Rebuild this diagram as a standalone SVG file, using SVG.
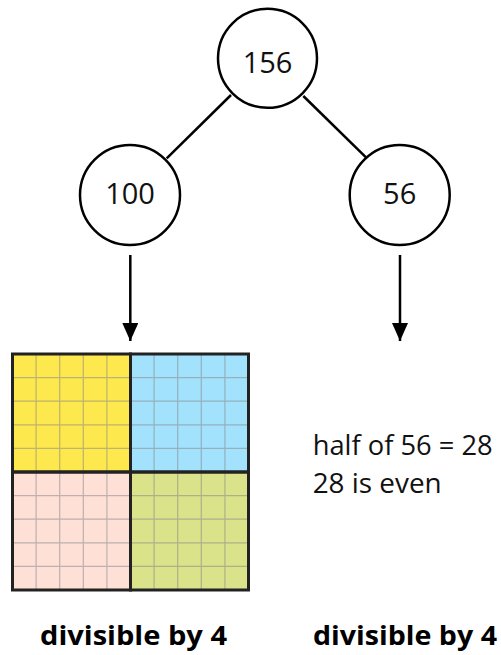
<svg xmlns="http://www.w3.org/2000/svg" width="501" height="655" viewBox="0 0 501 655">
<defs>
<style>
.node{fill:#fff;stroke:#000;stroke-width:2.5}
.num{font-family:"Open Sans","Liberation Sans",sans-serif;font-size:29px;fill:#111;text-anchor:middle}
.edge{stroke:#000;stroke-width:2.5;fill:none}
.cap{font-family:"Open Sans","Liberation Sans",sans-serif;font-size:27px;font-weight:bold;fill:#000}
.txt{font-family:"Open Sans","Liberation Sans",sans-serif;font-size:28px;fill:#111}
.grid{stroke:#888;stroke-opacity:0.55;stroke-width:1.2;fill:none}
.quad{stroke:#222;stroke-width:3;fill:none}
</style>
<marker id="arr" viewBox="0 0 18 16" refX="18" refY="8" markerWidth="18" markerHeight="16" markerUnits="userSpaceOnUse" orient="auto">
<path d="M0,0 L18,8 L0,16 Z" fill="#000"/>
</marker>
</defs>
<g id="connectors">
<line class="edge" x1="231" y1="95" x2="166.7" y2="158.3"/>
<line class="edge" x1="303.3" y1="96" x2="366" y2="157.3"/>
<line class="edge" x1="130.3" y1="255" x2="130.3" y2="341" marker-end="url(#arr)"/>
<line class="edge" x1="400" y1="255" x2="400" y2="341" marker-end="url(#arr)"/>
</g>
<g id="node-156">
<circle class="node" cx="267.5" cy="58.3" r="49.5"/>
<text class="num" x="267.5" y="72.7">156</text>
</g>
<g id="node-100">
<circle class="node" cx="130" cy="195" r="50"/>
<text class="num" x="130" y="204.3">100</text>
</g>
<g id="node-56">
<circle class="node" cx="399.7" cy="195" r="50"/>
<text class="num" x="399.7" y="204.3">56</text>
</g>
<g id="grid-100">
<rect x="12.5" y="354" width="118" height="118" fill="#FDE84E"/>
<rect x="130.5" y="354" width="118" height="118" fill="#A3E2FD"/>
<rect x="12.5" y="472" width="118" height="118" fill="#FEE0D7"/>
<rect x="130.5" y="472" width="118" height="118" fill="#DAE38A"/>
<path class="grid" d="M36.1,354V590M59.7,354V590M83.3,354V590M106.9,354V590M154.1,354V590M177.7,354V590M201.3,354V590M224.9,354V590M12.5,377.6H248.5M12.5,401.2H248.5M12.5,424.8H248.5M12.5,448.4H248.5M12.5,495.6H248.5M12.5,519.2H248.5M12.5,542.8H248.5M12.5,566.4H248.5"/>
<rect class="quad" x="12.5" y="354" width="118" height="118"/>
<rect class="quad" x="130.5" y="354" width="118" height="118"/>
<rect class="quad" x="12.5" y="472" width="118" height="118"/>
<rect class="quad" x="130.5" y="472" width="118" height="118"/>
</g>
<g id="text-56">
<text class="txt" x="312.7" y="455" textLength="180" lengthAdjust="spacingAndGlyphs">half of 56 = 28</text>
<text class="txt" x="312.7" y="492.7" textLength="129" lengthAdjust="spacingAndGlyphs">28 is even</text>
</g>
<text class="cap" x="40" y="645" textLength="187" lengthAdjust="spacingAndGlyphs">divisible by 4</text>
<text class="cap" x="313" y="645" textLength="184" lengthAdjust="spacingAndGlyphs">divisible by 4</text>
</svg>
